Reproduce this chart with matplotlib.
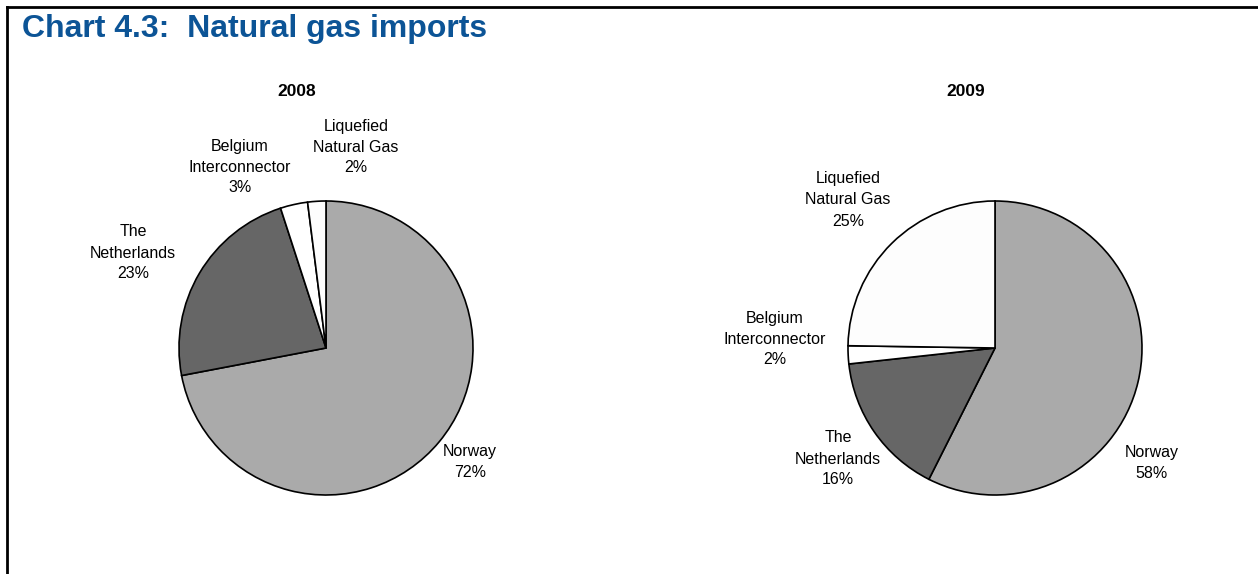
"""Chart 4.3 — natural gas imports by source, 2008 vs 2009, as two pies."""
import matplotlib.pyplot as plt
from matplotlib.lines import Line2D

plt.rcParams["font.family"] = ["Liberation Sans", "DejaVu Sans"]

SOURCES = ["Norway", "The\nNetherlands", "Belgium\nInterconnector",
           "Liquefied\nNatural Gas"]
SHARE_2008 = [72, 23, 3, 2]
SHARE_2009 = [58, 16, 2, 25]
COLORS = ["#aaaaaa", "#666666", "#ffffff", "#fdfdfd"]

# label offsets from pie centre, in pixels (x right, y up)
LABEL_POS_2008 = [(144, -114), (-193, 95), (-86, 181), (30, 201)]
LABEL_POS_2009 = [(157, -115), (-157, -111), (-220, 9), (-147, 148)]

W, H = 1258, 574
R = 147  # pie radius in px
HALF = 230


def draw_pie(fig, cx, cy, year, shares, label_pos):
    ax = fig.add_axes([(cx - HALF) / W, 1 - (cy + HALF) / H,
                       2 * HALF / W, 2 * HALF / H])
    ax.pie(shares, colors=COLORS, startangle=90, counterclock=False,
           radius=R, wedgeprops=dict(edgecolor="black", linewidth=1.2))
    ax.set_xlim(-HALF, HALF)
    ax.set_ylim(-HALF, HALF)
    ax.set_aspect("equal")
    ax.axis("off")
    for name, v, (dx, dy) in zip(SOURCES, shares, label_pos):
        ax.text(dx, dy, f"{name}\n{v}%", ha="center", va="center",
                fontsize=11.5, linespacing=1.5)
    ax.text(-29, 257, year, ha="center", va="center",
            fontsize=12.5, fontweight="bold")


fig = plt.figure(figsize=(W / 100, H / 100), dpi=100)

fig.text(22 / W, 1 - 29 / H, "Chart 4.3:  Natural gas imports",
         ha="left", va="center", fontsize=23, fontweight="bold",
         color="#0c5496")

# frame: top and left rules
fig.add_artist(Line2D([7 / W, 1], [1 - 7 / H, 1 - 7 / H],
                      color="black", linewidth=2.0))
fig.add_artist(Line2D([7 / W, 7 / W], [0, 1 - 7 / H],
                      color="black", linewidth=2.0))

draw_pie(fig, 326, 348, "2008", SHARE_2008, LABEL_POS_2008)
draw_pie(fig, 995, 348, "2009", SHARE_2009, LABEL_POS_2009)

fig.savefig("out.png", dpi=100)
plt.close(fig)
